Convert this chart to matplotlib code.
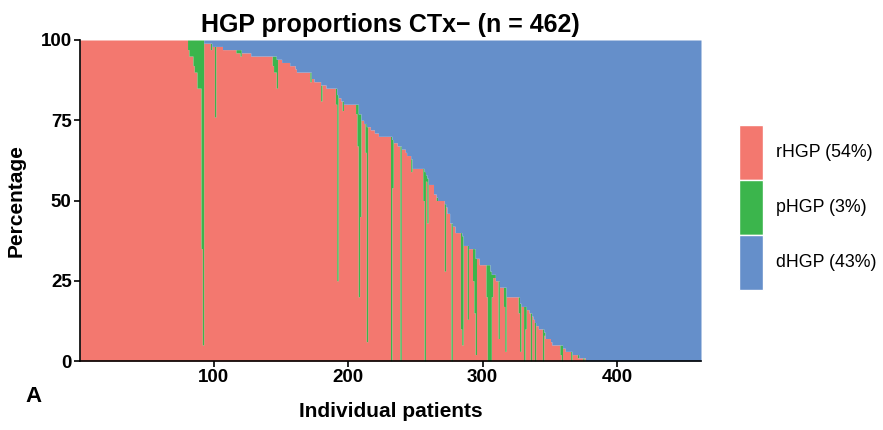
import matplotlib
matplotlib.use('Agg')
import matplotlib.pyplot as plt
from matplotlib.patches import Rectangle
import numpy as np

# Per-patient HGP composition, stored as runs of identical patients
# (run length, rHGP %, pHGP %, dHGP %), ordered as on the x axis.
run_len = [80, 1, 3, 1, 2, 3, 1, 1, 5, 1, 2, 1, 5, 10, 3, 1, 7, 16, 1, 2,
           1, 3, 6, 4, 1, 10, 1, 2, 5, 1, 3, 7, 1, 1, 2, 1, 1, 9, 1, 1,
           1, 1, 2, 1, 1, 1, 2, 3, 3, 9, 1, 1, 3, 2, 1, 3, 1, 3, 1, 8,
           1, 1, 1, 1, 4, 2, 1, 5, 1, 1, 2, 1, 1, 2, 4, 1, 1, 3, 1, 3,
           1, 1, 1, 2, 5, 1, 2, 1, 1, 2, 2, 1, 3, 1, 1, 9, 1, 1, 2, 1,
           1, 2, 1, 1, 1, 1, 1, 2, 3, 1, 1, 4, 1, 6, 1, 1, 2, 4, 1, 4,
           1, 3, 1, 1, 86]
rhgp = [100, 97, 95, 92, 90, 85, 35, 5, 99, 97, 98, 76, 98, 97, 96, 95, 96, 95, 92, 90,
        85, 94, 93, 92, 91, 90, 87, 88, 87, 81, 86, 85, 80, 25, 82, 81, 78, 80, 77, 67,
        20, 45, 75, 74, 65, 6, 73, 72, 71, 70, 0, 54, 68, 67, 0, 66, 65, 64, 59, 60,
        50, 0, 56, 43, 55, 52, 50, 50, 28, 48, 46, 43, 0, 42, 40, 10, 5, 36, 13, 35,
        25, 15, 2, 32, 30, 20, 0, 0, 20, 26, 25, 7, 23, 17, 3, 20, 15, 3, 17, 0,
        10, 16, 15, 0, 14, 13, 0, 11, 10, 0, 8, 7, 6, 5, 2, 0, 4, 3, 0, 2,
        1, 1, 0, 1, 0]
phgp = [0, 3, 5, 8, 10, 15, 65, 95, 0, 2, 0, 22, 0, 0, 1, 2, 0, 0, 3, 5,
        9, 0, 0, 0, 0, 0, 3, 0, 0, 5, 0, 0, 5, 58, 0, 0, 3, 0, 3, 13,
        57, 32, 0, 0, 9, 67, 0, 0, 0, 0, 70, 15, 0, 0, 67, 0, 0, 0, 4, 0,
        10, 59, 2, 14, 0, 0, 1, 0, 21, 0, 0, 0, 43, 0, 0, 30, 34, 0, 23, 0,
        10, 20, 30, 0, 0, 10, 30, 28, 7, 1, 0, 18, 0, 6, 20, 0, 5, 15, 0, 17,
        7, 0, 0, 15, 0, 0, 12, 0, 0, 10, 1, 0, 0, 0, 3, 5, 0, 0, 3, 0,
        1, 0, 1, 0, 0]
dhgp = [0, 0, 0, 0, 0, 0, 0, 0, 1, 1, 2, 2, 2, 3, 3, 3, 4, 5, 5, 5,
        6, 6, 7, 8, 9, 10, 10, 12, 13, 14, 14, 15, 15, 17, 18, 19, 19, 20, 20, 20,
        23, 23, 25, 26, 26, 27, 27, 28, 29, 30, 30, 31, 32, 33, 33, 34, 35, 36, 37, 40,
        40, 41, 42, 43, 45, 48, 49, 50, 51, 52, 54, 57, 57, 58, 60, 60, 61, 64, 64, 65,
        65, 65, 68, 68, 70, 70, 70, 72, 73, 73, 75, 75, 77, 77, 77, 80, 80, 82, 83, 83,
        83, 84, 85, 85, 86, 87, 88, 89, 90, 90, 91, 93, 94, 95, 95, 95, 96, 97, 97, 98,
        98, 99, 99, 99, 100]

group_names = ['rHGP', 'pHGP', 'dHGP']
group_share = [54, 3, 43]
colors = ['#F3786F', '#3BB54C', '#658FCA']

r = np.repeat(rhgp, run_len).astype(float)
p = np.repeat(phgp, run_len).astype(float)
d = np.repeat(dhgp, run_len).astype(float)
n = len(r)

plt.rcParams['font.family'] = ['Liberation Sans', 'DejaVu Sans']

fig = plt.figure(figsize=(8.83, 4.30), dpi=100)
W, H = 883, 430
ax = fig.add_axes([80 / W, 1 - 361 / H, (701 - 80) / W, (361 - 40) / H])

# each patient is a unit-wide stacked column; drawn as stepped bands so
# neighbouring columns join without seams
edges = np.arange(0.5, n + 1.5)
def ext(v):
    return np.append(v, v[-1])
levels = [np.zeros(n), r, r + p, r + p + d]
for k in range(3):
    ax.fill_between(edges, ext(levels[k]), ext(levels[k + 1]), step='post',
                    color=colors[k], linewidth=0, antialiased=False)

ax.set_xlim(0.5, n + 0.5)
ax.set_ylim(0, 100)
ax.set_xticks([100, 200, 300, 400])
ax.set_yticks([0, 25, 50, 75, 100])
for side in ['top', 'right']:
    ax.spines[side].set_visible(False)
for side in ['left', 'bottom']:
    ax.spines[side].set_linewidth(1.2)
ax.tick_params(axis='both', length=4, width=1.2, labelsize=13.5, pad=2)
for lab in ax.get_xticklabels() + ax.get_yticklabels():
    lab.set_fontweight('bold')

ax.set_xlabel('Individual patients', fontsize=15, fontweight='bold', labelpad=11)
ax.set_ylabel('Percentage', fontsize=15, fontweight='bold', labelpad=11)
ax.set_title(f'HGP proportions CTx\u2212 (n = {n})', fontsize=18, fontweight='bold', pad=6)
fig.text(33 / W, 1 - 397 / H, 'A', fontsize=16, fontweight='bold', ha='center', va='center')

# legend: stacked colour keys with labels
key_top = 125
key_h = 55
for i, (name, share) in enumerate(zip(group_names, group_share)):
    y0 = key_top + i * key_h
    fig.add_artist(Rectangle((739 / W, 1 - (y0 + key_h) / H), 24 / W, key_h / H,
                             transform=fig.transFigure, facecolor=colors[i],
                             edgecolor='white', linewidth=1.0))
    fig.text(776 / W, 1 - (y0 + key_h / 2) / H, f'{name} ({share}%)',
             fontsize=12.8, ha='left', va='center')

fig.savefig('out.png', dpi=100)
